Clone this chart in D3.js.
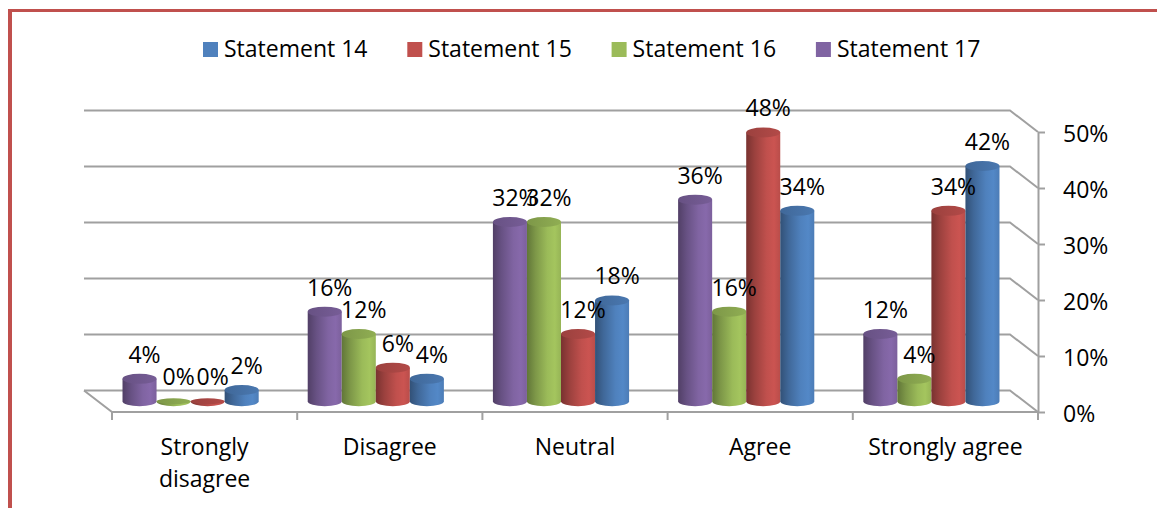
<!DOCTYPE html>
<html>
<head>
<meta charset="utf-8">
<script src="https://cdn.jsdelivr.net/npm/d3@7"></script>
<style>
  html, body { margin: 0; padding: 0; background: #fff; }
  svg { display: block; }
  text { font-family: "Open Sans", sans-serif; fill: #000; }
</style>
</head>
<body>
<svg id="chart" width="1157" height="508"></svg>
<script>
// ---- data ----
const categories = ["Strongly disagree", "Disagree", "Neutral", "Agree", "Strongly agree"];
const seriesNames = ["Statement 14", "Statement 15", "Statement 16", "Statement 17"];
const statement14 = [2, 4, 18, 34, 42];
const statement15 = [0, 6, 12, 48, 34];
const statement16 = [0, 12, 32, 16, 4];
const statement17 = [4, 16, 32, 36, 12];
const yTicks = [0, 10, 20, 30, 40, 50];

// ---- style ----
const seriesColors = ["#4f81bd", "#c0504d", "#9bbb59", "#8064a2"];
const seriesValues = [statement14, statement15, statement16, statement17];
const drawOrder = [3, 2, 1, 0]; // bars within a category: S17, S16, S15, S14

const svg = d3.select("#chart");
const FS = 23;
const DX = -28, DY = -21.5; // depth offset of back wall

const x = d3.scaleBand().domain(categories).range([112, 1038]).padding(0);
const inner = d3.scaleBand().domain(drawOrder).range([0, x.bandwidth()])
  .paddingInner(0).paddingOuter(0.72);
const y = d3.scaleLinear().domain([0, 50]).range([412, 132]);

// frame
svg.append("line").attr("x1", 10).attr("x2", 10).attr("y1", 9).attr("y2", 508)
  .attr("stroke", "#c0504d").attr("stroke-width", 4);
svg.append("line").attr("x1", 8).attr("x2", 1157).attr("y1", 10.5).attr("y2", 10.5)
  .attr("stroke", "#c0504d").attr("stroke-width", 3);

// gradients
const defs = svg.append("defs");
function shade(c, k) { return d3.color(c).darker(k).formatHex(); }
function tint(c, k) { return d3.color(c).brighter(k).formatHex(); }
seriesColors.forEach((c, i) => {
  const g = defs.append("linearGradient").attr("id", "body" + i)
    .attr("x1", "0%").attr("x2", "100%").attr("y1", "0%").attr("y2", "0%");
  g.append("stop").attr("offset", "0%").attr("stop-color", shade(c, 1.3));
  g.append("stop").attr("offset", "25%").attr("stop-color", shade(c, 0.6));
  g.append("stop").attr("offset", "60%").attr("stop-color", c);
  g.append("stop").attr("offset", "82%").attr("stop-color", tint(c, 0.15));
  g.append("stop").attr("offset", "100%").attr("stop-color", shade(c, 0.1));
  const t = defs.append("linearGradient").attr("id", "top" + i)
    .attr("x1", "0%").attr("x2", "100%").attr("y1", "0%").attr("y2", "0%");
  t.append("stop").attr("offset", "0%").attr("stop-color", shade(c, 0.6));
  t.append("stop").attr("offset", "100%").attr("stop-color", shade(c, 0.2));
});

// gridlines (back wall + right side wall)
const grid = svg.append("g").attr("fill", "none").attr("stroke", "#a0a0a0").attr("stroke-width", 2);
yTicks.forEach(t => {
  grid.append("path").attr("d",
    `M${112 + DX},${y(t) + DY}L${1038 + DX},${y(t) + DY}L1038,${y(t)}`);
});
// floor left edge and front edge
grid.append("path").attr("d", `M${112 + DX},${y(0) + DY}L112,${y(0)}L1038,${y(0)}`);

// right axis
const axis = svg.append("g").attr("transform", "translate(1038,0)")
  .call(d3.axisRight(y).tickValues(yTicks).tickSize(7).tickSizeOuter(0).tickPadding(18)
    .tickFormat(d => d + "%"));
axis.selectAll("path, line").attr("stroke", "#a0a0a0").attr("stroke-width", 2);
axis.selectAll("text").attr("font-size", FS).attr("font-family", "Open Sans")
  .attr("fill", "#000").attr("dy", "0.4em");

// category ticks
const bounds = categories.map(c => x(c)).concat([x(categories[categories.length - 1]) + x.bandwidth()]);
svg.append("g").selectAll("line").data(bounds).join("line")
  .attr("x1", d => d).attr("x2", d => d).attr("y1", y(0)).attr("y2", y(0) + 8)
  .attr("stroke", "#a0a0a0").attr("stroke-width", 2);

// bars
const rx = inner.bandwidth() / 2, ry = 5;
const barsG = svg.append("g");
const labelsG = svg.append("g");
categories.forEach((c, ci) => {
  drawOrder.forEach(si => {
    const v = seriesValues[si][ci];
    const cx = x(c) + inner(si) + rx + DX / 2;
    const yb = y(0) + DY / 2;
    const yt = y(v) + DY / 2;
    const g = barsG.append("g");
    g.append("path")
      .attr("d", `M${cx - rx},${yt}L${cx - rx},${yb}A${rx},${ry} 0 0 0 ${cx + rx},${yb}L${cx + rx},${yt}Z`)
      .attr("fill", `url(#body${si})`);
    g.append("ellipse").attr("cx", cx).attr("cy", yt).attr("rx", rx).attr("ry", v === 0 ? 3 : ry)
      .attr("fill", `url(#top${si})`);
    labelsG.append("text").attr("x", cx + 5).attr("y", yt - 16)
      .attr("text-anchor", "middle").attr("font-size", FS).text(v + "%");
  });
});

// category labels
const catG = svg.append("g");
categories.forEach(c => {
  const t = catG.append("text").attr("x", x(c) + x.bandwidth() / 2).attr("y", 455)
    .attr("text-anchor", "middle").attr("font-size", FS).text(c);
  if (t.node().getComputedTextLength() > x.bandwidth() - 10) {
    const words = c.split(" ");
    t.text(null);
    words.forEach((w, i) => {
      t.append("tspan").attr("x", x(c) + x.bandwidth() / 2).attr("dy", i === 0 ? 0 : 32).text(w);
    });
  }
});

// legend
const legend = svg.append("g");
seriesNames.forEach((s, i) => {
  const lx = 203 + i * 204.3;
  legend.append("rect").attr("x", lx).attr("y", 42).attr("width", 15).attr("height", 15)
    .attr("fill", seriesColors[i]);
  legend.append("text").attr("x", lx + 21).attr("y", 57).attr("font-size", FS).text(s);
});
</script>
</body>
</html>
